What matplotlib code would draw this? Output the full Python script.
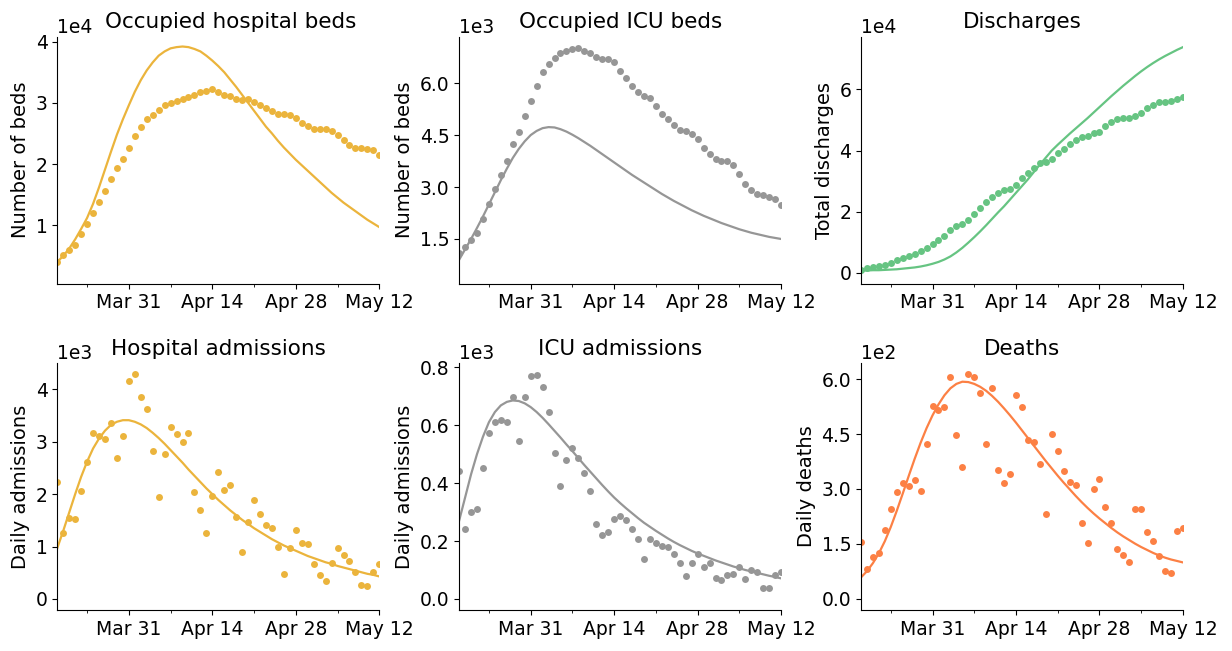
import numpy as np
import pandas as pd
import matplotlib
matplotlib.use("Agg")
import matplotlib.pyplot as plt
import matplotlib.dates as mdates

dates = pd.date_range("2020-03-19", "2020-05-12", freq="D")
major_ticks = pd.to_datetime(["2020-03-31", "2020-04-14", "2020-04-28", "2020-05-12"])
minor_ticks = pd.to_datetime(["2020-03-24", "2020-04-07", "2020-04-21", "2020-05-05"])

# occupied hospital beds
beds_obs = [4000, 5100, 5900, 6800, 8600, 10200, 12000, 13800, 15600, 17500,
            19300, 20900, 22700, 24600, 26100, 27300, 28000, 28800, 29600, 29900,
            30300, 30600, 31000, 31200, 31700, 31900, 32200, 31700, 31300, 31100,
            30600, 30500, 30600, 30200, 29700, 29200, 28700, 28200, 28200, 28000,
            27600, 26700, 26200, 25800, 25800, 25700, 25400, 24700, 23900, 23100,
            22700, 22700, 22500, 22300, 21500]
beds_fit = [4000, 5000, 6200, 7700, 9400, 11200, 13500, 16200, 19100, 22000,
            24800, 27300, 29600, 31800, 33700, 35300, 36600, 37700, 38400, 38900,
            39100, 39200, 39100, 38800, 38400, 37700, 36900, 36000, 35000, 33800,
            32600, 31300, 30000, 28700, 27400, 26100, 25000, 23800, 22700, 21700,
            20700, 19800, 18900, 18000, 17100, 16200, 15300, 14500, 13700, 13000,
            12300, 11600, 10900, 10300, 9700]

# occupied icu beds
icu_obs = [1100, 1270, 1460, 1670, 2070, 2520, 2930, 3340, 3750, 4240,
           4580, 5050, 5490, 5930, 6310, 6560, 6730, 6860, 6930, 6990,
           7020, 6930, 6880, 6760, 6710, 6700, 6610, 6340, 6140, 5910,
           5730, 5640, 5580, 5340, 5120, 4960, 4780, 4660, 4620, 4530,
           4400, 4130, 3940, 3820, 3760, 3760, 3640, 3370, 3090, 2910,
           2810, 2760, 2710, 2660, 2490]
icu_fit = [900, 1200, 1500, 1820, 2150, 2500, 2850, 3200, 3530, 3840,
           4100, 4320, 4500, 4620, 4700, 4730, 4720, 4670, 4600, 4510,
           4410, 4300, 4190, 4070, 3950, 3830, 3710, 3590, 3470, 3350,
           3240, 3130, 3020, 2910, 2800, 2700, 2600, 2510, 2420, 2330,
           2250, 2170, 2100, 2030, 1960, 1900, 1840, 1780, 1730, 1680,
           1640, 1600, 1560, 1530, 1500]

# cumulative discharges
dis_obs = [1100, 1600, 2000, 2300, 2700, 3300, 4100, 4900, 5600, 6300,
           7200, 8000, 9300, 10900, 12100, 14000, 15300, 15900, 17200, 19400,
           21100, 23200, 24900, 26200, 27100, 27500, 28700, 30900, 32700, 34400,
           35800, 36300, 37400, 39100, 40500, 42000, 43400, 44500, 44700, 45600,
           46100, 48000, 49400, 50300, 50500, 50700, 51300, 52400, 53800, 54900,
           56000, 55900, 56200, 56700, 57600]
dis_fit = [800, 800, 900, 900, 1000, 1100, 1200, 1400, 1600, 1800,
           2100, 2500, 3000, 3600, 4400, 5400, 6700, 8200, 9900, 11700,
           13600, 15600, 17700, 19800, 21800, 24000, 26200, 28400, 30600, 33000,
           35400, 37700, 40000, 41900, 43700, 45500, 47200, 48900, 50600, 52400,
           54200, 56000, 57800, 59500, 61200, 62800, 64400, 65900, 67300, 68600,
           69800, 70900, 71900, 72900, 73800]

# daily hospital admissions
adm_obs = [2230, 1260, 1540, 1530, 2060, 2620, 3170, 3100, 3060, 3360,
           2690, 3110, 4150, 4290, 3850, 3630, 2830, 1940, 2760, 3280,
           3140, 2990, 3160, 2040, 1690, 1260, 1970, 2420, 2080, 2170,
           1570, 900, 1460, 1890, 1620, 1420, 1350, 1000, 480, 970,
           1320, 1070, 1050, 670, 450, 350, 690, 980, 830, 730,
           510, 260, 250, 520, 670]
adm_fit = [970, 1300, 1650, 2000, 2330, 2620, 2870, 3060, 3210, 3320,
           3380, 3410, 3410, 3380, 3330, 3260, 3170, 3070, 2960, 2840,
           2720, 2600, 2470, 2350, 2230, 2110, 2000, 1890, 1790, 1690,
           1600, 1510, 1430, 1350, 1280, 1210, 1140, 1080, 1020, 970,
           920, 870, 820, 780, 740, 700, 670, 630, 600, 570,
           540, 510, 480, 460, 430]

# daily icu admissions
icu_adm_obs = [441, 243, 299, 310, 451, 573, 611, 617, 611, 697,
               545, 697, 770, 774, 731, 644, 505, 391, 481, 520,
               486, 433, 371, 257, 222, 230, 277, 287, 272, 243,
               207, 138, 208, 192, 183, 180, 156, 125, 80, 125,
               154, 111, 123, 73, 65, 82, 85, 111, 70, 101,
               92, 39, 39, 83, 92]
icu_adm_fit = [270, 350, 430, 500, 560, 610, 645, 668, 680, 685,
               683, 675, 662, 645, 625, 603, 580, 557, 533, 510,
               486, 462, 439, 416, 393, 371, 350, 331, 313, 296,
               279, 263, 249, 235, 222, 209, 197, 186, 176, 166,
               157, 149, 141, 133, 126, 119, 112, 106, 100, 95,
               90, 85, 80, 76, 71]

# daily deaths
deaths_obs = [154, 82, 113, 124, 189, 244, 292, 317, 307, 325,
              295, 422, 526, 516, 524, 605, 447, 360, 613, 607,
              562, 424, 577, 353, 315, 342, 558, 524, 435, 427,
              367, 231, 449, 404, 348, 320, 312, 206, 152, 299,
              327, 250, 206, 136, 118, 101, 245, 244, 181, 158,
              117, 75, 69, 184, 193]
deaths_fit = [58, 75, 97, 124, 157, 196, 240, 287, 335, 382,
              426, 466, 501, 531, 556, 575, 587, 593, 592, 587,
              579, 568, 554, 538, 520, 501, 481, 460, 439, 418,
              397, 376, 356, 336, 317, 299, 281, 264, 248, 233,
              219, 206, 193, 181, 170, 160, 150, 141, 133, 125,
              118, 112, 107, 103, 99]

yellow = "#EBB43C"
grey = "#969696"
green = "#66C482"
orange = "#FC8044"

panels = [
    ("Occupied hospital beds", "Number of beds", beds_obs, beds_fit, yellow,
     4, [10000, 20000, 30000, 40000], (460, 40800)),
    ("Occupied ICU beds", "Number of beds", icu_obs, icu_fit, grey,
     3, [1500, 3000, 4500, 6000], (210, 7340)),
    ("Discharges", "Total discharges", dis_obs, dis_fit, green,
     4, [0, 20000, 40000, 60000], (-3500, 77200)),
    ("Hospital admissions", "Daily admissions", adm_obs, adm_fit, yellow,
     3, [0, 1000, 2000, 3000, 4000], (-210, 4500)),
    ("ICU admissions", "Daily admissions", icu_adm_obs, icu_adm_fit, grey,
     3, [0, 200, 400, 600, 800], (-38, 814)),
    ("Deaths", "Daily deaths", deaths_obs, deaths_fit, orange,
     2, [0, 150, 300, 450, 600], (-31, 644)),
]


def draw():
	fig, axes = plt.subplots(2, 3, figsize=(12.32, 6.51), dpi=100)
	fig.subplots_adjust(left=0.0465, right=0.9602, top=0.9436, bottom=0.063,
	                    wspace=0.248, hspace=0.3215)

	for i, (title, ylabel, obs, fit, color, power, yticks, ylim) in enumerate(panels):
		ax = axes.flat[i]
		ax.plot(dates, fit, color=color, linewidth=1.6)
		ax.plot(dates, obs, "o", color=color, markersize=5, markeredgewidth=0)

		ax.set_xlim(dates[0], dates[-1])
		ax.set_xticks(major_ticks)
		ax.set_xticks(minor_ticks, minor=True)
		ax.xaxis.set_major_formatter(mdates.DateFormatter("%b %d"))

		ax.set_ylim(*ylim)
		ax.set_yticks(yticks)
		ax.ticklabel_format(axis="y", style="sci", scilimits=(power, power))
		ax.yaxis.get_offset_text().set_fontsize(13.5)

		ax.tick_params(labelsize=13.5)
		ax.spines["top"].set_visible(False)
		ax.spines["right"].set_visible(False)

		ax.set_ylabel(ylabel, fontsize=14)
		if i == 0:
			ax.set_title(title, fontsize=15.5, x=0.537)
		else:
			ax.set_title(title, fontsize=15.5)

	fig.savefig("out.png", dpi=100)


draw()
